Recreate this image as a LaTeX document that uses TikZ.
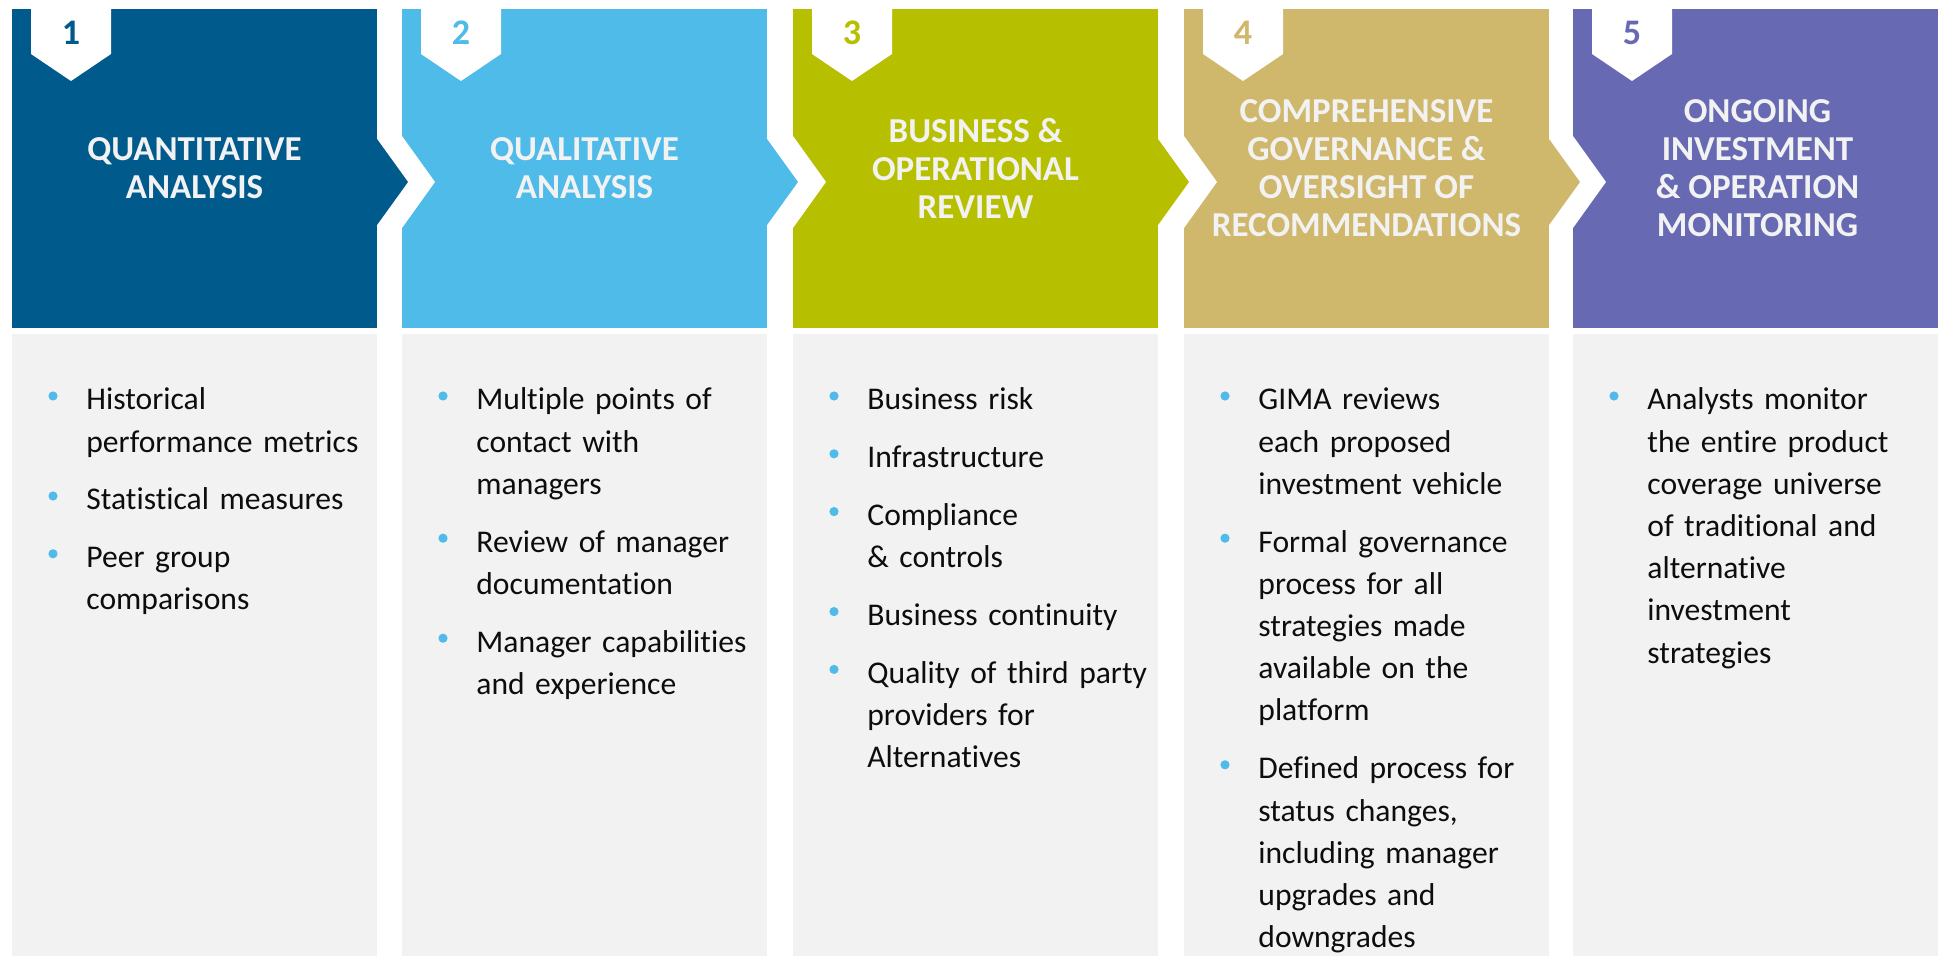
\documentclass[tikz,border=0pt]{standalone}
\usepackage{fontspec}
\setmainfont{Carlito}[Ligatures={NoCommon}]
\definecolor{cA}{RGB}{0,91,140}
\definecolor{cB}{RGB}{78,187,232}
\definecolor{cC}{RGB}{183,192,0}
\definecolor{cD}{RGB}{207,183,107}
\definecolor{cE}{RGB}{103,106,178}
\definecolor{bodygray}{RGB}{242,242,242}
\definecolor{titlegray}{RGB}{242,242,242}
\definecolor{bulletblue}{RGB}{80,186,232}
\definecolor{bodytext}{RGB}{13,13,13}
\tikzset{
 titletext/.style={align=center, text=titlegray, font=\fontsize{17.5pt}{19pt}\selectfont\bfseries, inner sep=0},
 numtext/.style={font=\fontsize{18pt}{20pt}\selectfont\bfseries, inner sep=0},
 itemtext/.style={anchor=base west, inner sep=0, text width=150pt, align=left, text=bodytext, font=\fontsize{15.8pt}{21.1pt}\selectfont},
 bulletdot/.style={circle, fill=bulletblue, minimum size=4.6pt, inner sep=0},
}
\newcommand\bitem[4]{\node[bulletdot] (#1b) at ({#2+41},{#3-14}) {}; \node[itemtext] (#1) at ({#2+74},#3) {#4};}
\begin{document}
\begin{tikzpicture}[x=0.5pt,y=-0.5pt]
\useasboundingbox (0,0) rectangle (1944,956);
\fill[white] (0,0) rectangle (1944,956);
% panels
\foreach \L/\col in {12/cA,402/cB,793/cC,1184/cD,1573/cE}{
  \fill[\col] (\L,9) rectangle ({\L+365},328);
  \fill[bodygray] (\L,334) rectangle ({\L+365},956);
  \fill[white] ({\L+19},9) -- ({\L+99},9) -- ({\L+99},54) -- ({\L+59},81) -- ({\L+19},54) -- cycle;
}
% notches
\foreach \L in {402,793,1184,1573}{
  \fill[white] (\L,136) -- ({\L+33},182) -- (\L,228) -- cycle;
}
% arrows
\foreach \L/\col in {12/cA,402/cB,793/cC,1184/cD}{
  \fill[\col] ({\L+365},139) -- ({\L+396},182) -- ({\L+365},225) -- cycle;
}
% numbers
\node[numtext, text=cA] (n1) at (71,33) {1};
\node[numtext, text=cB] (n2) at (461,33) {2};
\node[numtext, text=cC] (n3) at (852,33) {3};
\node[numtext, text=cD] (n4) at (1243,33) {4};
\node[numtext, text=cE] (n5) at (1632,33) {5};
% titles
\node[titletext] (t1) at (194.5,168.5) {QUANTITATIVE\\ANALYSIS};
\node[titletext] (t2) at (584.5,168.5) {QUALITATIVE\\ANALYSIS};
\node[titletext] (t3) at (975.5,168.5) {BUSINESS \&\\OPERATIONAL\\REVIEW};
\node[titletext] (t4) at (1366.5,168.5) {COMPREHENSIVE\\GOVERNANCE \&\\OVERSIGHT OF\\RECOMMENDATIONS};
\node[titletext] (t5) at (1757.5,168.5) {ONGOING\\INVESTMENT\\\& OPERATION\\MONITORING};
% column 1
\bitem{a1}{12}{410}{Historical\\performance metrics}
\bitem{a2}{12}{510}{Statistical measures}
\bitem{a3}{12}{567.8}{Peer group\\comparisons}
% column 2
\bitem{b1}{402}{410}{Multiple points of\\contact with\\managers}
\bitem{b2}{402}{552.2}{Review of manager\\documentation}
\bitem{b3}{402}{652.2}{Manager capabilities\\and experience}
% column 3
\bitem{c1}{793}{410}{Business risk}
\bitem{c2}{793}{467.8}{Infrastructure}
\bitem{c3}{793}{525.6}{Compliance\\\& controls}
\bitem{c4}{793}{625.6}{Business continuity}
\bitem{c5}{793}{683.4}{Quality of third party\\providers for\\Alternatives}
% column 4
\bitem{d1}{1184}{410}{GIMA reviews\\each proposed\\investment vehicle}
\bitem{d2}{1184}{552.2}{Formal governance\\process for all\\strategies made\\available on the\\platform}
\bitem{d3}{1184}{778.8}{Defined process for\\status changes,\\including manager\\upgrades and\\downgrades}
% column 5
\bitem{e1}{1573}{410}{Analysts monitor\\the entire product\\coverage universe\\of traditional and\\alternative\\investment\\strategies}
\end{tikzpicture}
\end{document}
